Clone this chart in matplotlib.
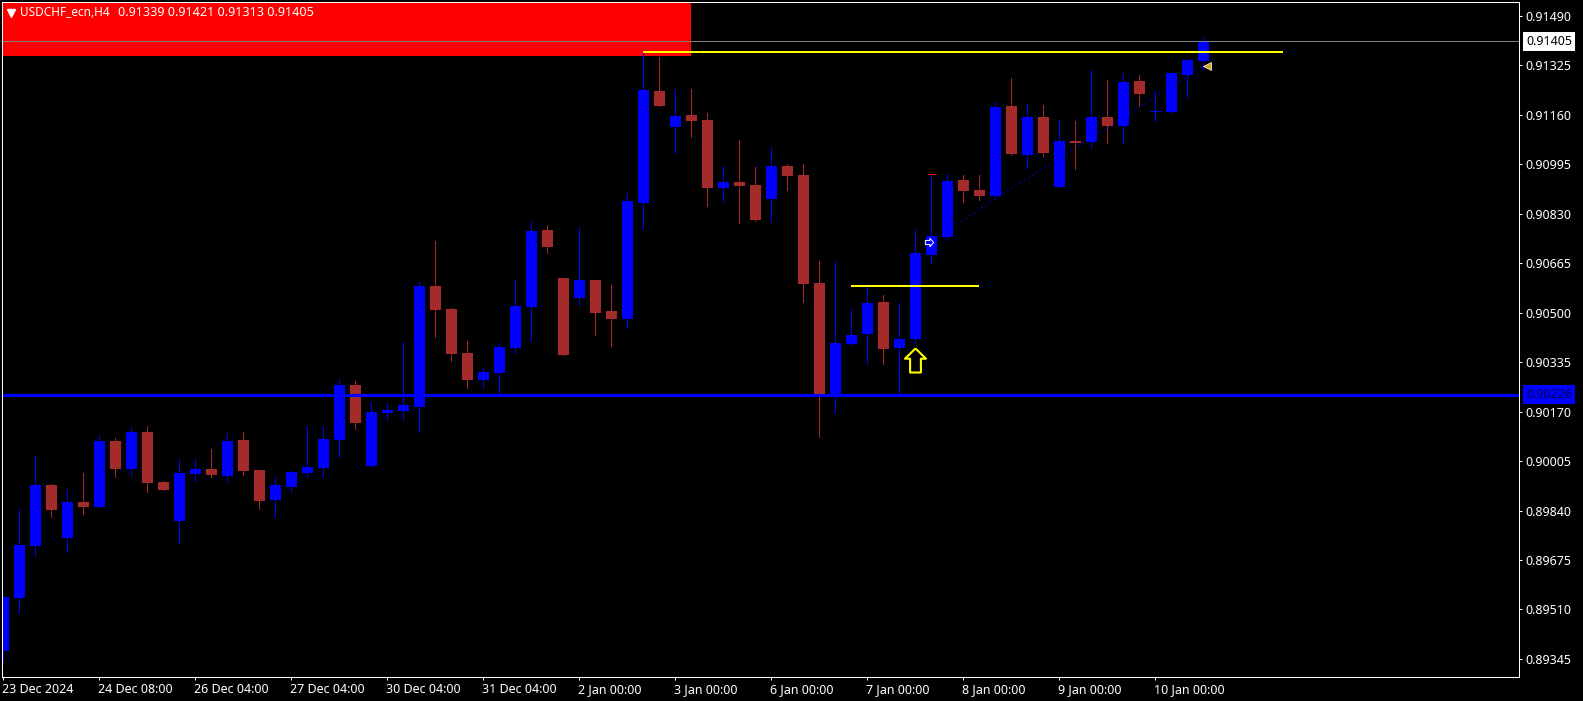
# USDCHF H4 candles, MT4 style

import matplotlib
matplotlib.use('Agg')
import numpy as np
import matplotlib.pyplot as plt
from matplotlib.transforms import ScaledTranslation

plt.rcParams['font.family'] = ['Noto Sans', 'DejaVu Sans']

opens = [0.89371, 0.89549, 0.89723, 0.89925, 0.89748, 0.89869, 0.89852, 0.90072, 0.89979, 0.90102,
         0.89935, 0.89805, 0.89962, 0.89979, 0.89955, 0.90075, 0.89975, 0.89875, 0.89919, 0.89965,
         0.89982, 0.90075, 0.90259, 0.89989, 0.90165, 0.90172, 0.90185, 0.90589, 0.90512, 0.90365,
         0.90275, 0.90299, 0.90382, 0.90519, 0.90776, 0.90616, 0.90549, 0.90609, 0.90506, 0.90479,
         0.90866, 0.91240, 0.91119, 0.91159, 0.91143, 0.90916, 0.90936, 0.90926, 0.90879, 0.90989,
         0.90959, 0.90599, 0.90228, 0.90395, 0.90429, 0.90536, 0.90382, 0.90412, 0.90692, 0.90752,
         0.90943, 0.90909, 0.90889, 0.91190, 0.91026, 0.91153, 0.90919, 0.91073, 0.91069, 0.91153,
         0.91123, 0.91273, 0.91173, 0.91169, 0.91293, 0.91339]
highs = [0.89552, 0.89845, 0.90022, 0.89929, 0.89912, 0.89965, 0.90089, 0.90082, 0.90119, 0.90122,
         0.89939, 0.90012, 0.90009, 0.90045, 0.90099, 0.90102, 0.89975, 0.89952, 0.89972, 0.90122,
         0.90122, 0.90276, 0.90272, 0.90202, 0.90199, 0.90402, 0.90602, 0.90739, 0.90516, 0.90406,
         0.90315, 0.90399, 0.90609, 0.90806, 0.90792, 0.90616, 0.90782, 0.90609, 0.90592, 0.90899,
         0.91370, 0.91353, 0.91246, 0.91246, 0.91166, 0.90989, 0.91076, 0.90986, 0.91053, 0.90996,
         0.90996, 0.90672, 0.90672, 0.90512, 0.90599, 0.90559, 0.90532, 0.90779, 0.90961, 0.90963,
         0.90959, 0.90959, 0.91203, 0.91283, 0.91196, 0.91193, 0.91143, 0.91139, 0.91310, 0.91276,
         0.91300, 0.91293, 0.91239, 0.91300, 0.91346, 0.91421]
lows = [0.89336, 0.89498, 0.89692, 0.89818, 0.89702, 0.89828, 0.89852, 0.89952, 0.89959, 0.89902,
        0.89909, 0.89732, 0.89939, 0.89952, 0.89935, 0.89959, 0.89845, 0.89818, 0.89905, 0.89952,
        0.89952, 0.90019, 0.90112, 0.89985, 0.90145, 0.90145, 0.90102, 0.90419, 0.90339, 0.90249,
        0.90249, 0.90228, 0.90365, 0.90406, 0.90699, 0.90359, 0.90526, 0.90425, 0.90389, 0.90449,
        0.90779, 0.91190, 0.91033, 0.91086, 0.90856, 0.90869, 0.90799, 0.90806, 0.90802, 0.90909,
        0.90536, 0.90085, 0.90165, 0.90392, 0.90332, 0.90329, 0.90228, 0.90399, 0.90666, 0.90742,
        0.90869, 0.90876, 0.90886, 0.91026, 0.90983, 0.91023, 0.90919, 0.90979, 0.91049, 0.91066,
        0.91066, 0.91190, 0.91139, 0.91166, 0.91216, 0.91313]
closes = [0.89552, 0.89725, 0.89925, 0.89842, 0.89869, 0.89852, 0.90072, 0.89979, 0.90102, 0.89932,
          0.89909, 0.89965, 0.89979, 0.89959, 0.90072, 0.89972, 0.89872, 0.89925, 0.89969, 0.89985,
          0.90079, 0.90259, 0.90132, 0.90169, 0.90175, 0.90192, 0.90589, 0.90509, 0.90362, 0.90275,
          0.90302, 0.90385, 0.90522, 0.90772, 0.90719, 0.90359, 0.90609, 0.90499, 0.90479, 0.90873,
          0.91243, 0.91190, 0.91156, 0.91139, 0.90916, 0.90936, 0.90923, 0.90809, 0.90989, 0.90956,
          0.90596, 0.90228, 0.90399, 0.90425, 0.90532, 0.90379, 0.90412, 0.90699, 0.90756, 0.90939,
          0.90906, 0.90889, 0.91186, 0.91029, 0.91153, 0.91033, 0.91073, 0.91066, 0.91153, 0.91123,
          0.91270, 0.91229, 0.91173, 0.91300, 0.91343, 0.91405]

price_ticks = [0.91490, 0.91325, 0.91160, 0.90995, 0.90830, 0.90665, 0.90500,
               0.90335, 0.90170, 0.90005, 0.89840, 0.89675, 0.89510, 0.89345]
time_ticks = [0, 6, 12, 18, 24, 30, 36, 42, 48, 54, 60, 66, 72]
time_labels = ['23 Dec 2024', '24 Dec 08:00', '26 Dec 04:00', '27 Dec 04:00', '30 Dec 04:00',
               '31 Dec 04:00', '2 Jan 00:00', '3 Jan 00:00', '6 Jan 00:00', '7 Jan 00:00',
               '8 Jan 00:00', '9 Jan 00:00', '10 Jan 00:00']

bid = 0.91405
support = 0.90226
res_top = [40, 80, 0.91370]
res_low = [53, 61, 0.90589]
trade_x = [58, 75]
trade_y = [0.90742, 0.91323]
zone_end = 43
zone_low = 0.91356

BLUE = '#0000ff'
BROWN = '#a52a2a'
YELLOW = '#ffff00'
PX = 0.72  # one pixel in points at dpi 100

fig = plt.figure(figsize=(15.83, 7.01), dpi=100, facecolor='black')
ax = fig.add_axes([2 / 1583, 24 / 701, 1517 / 1583, 675 / 701], facecolor='black')

x = np.arange(len(opens))
o = np.array(opens)
c = np.array(closes)
colors = [BLUE if a <= b else BROWN for a, b in zip(opens, closes)]

ax.set_xlim(-0.08, 94.73)
ax.set_ylim(0.892846, 0.915364)

# red zone, top left
ax.fill_between([ax.get_xlim()[0], zone_end], zone_low, ax.get_ylim()[1], color='#ff0000', lw=0, zorder=0)

ax.plot(trade_x, trade_y, color=BLUE, lw=PX, ls=(0, (1.5, 3.5)), zorder=1)

ax.vlines(x, lows, highs, colors=colors, lw=PX, antialiased=False, zorder=2)
ax.bar(x, np.abs(c - o), bottom=np.minimum(o, c), width=0.69, color=colors, linewidth=0, antialiased=False, zorder=3)
ax.hlines(closes[72], 72 - 0.345, 72 + 0.345, colors=BLUE, lw=PX, antialiased=False, zorder=3)
ax.hlines(highs[58], 58 - 0.22, 58 + 0.22, colors='#ff0000', lw=PX, antialiased=False, zorder=3)

ax.axhline(bid, color='#808080', lw=PX, zorder=4)
ax.axhline(support, color=BLUE, lw=2.99 * PX, zorder=5)
ax.hlines(res_top[2], res_top[0], res_top[1], colors=YELLOW, lw=2 * PX, zorder=5)
ax.hlines(res_low[2], res_low[0], res_low[1], colors=YELLOW, lw=2 * PX, zorder=5)

# hollow up arrow under the breakout candle
up_arrow = [(0, 1), (0.875, 0.15), (0.45, 0.15), (0.45, -1), (-0.45, -1), (-0.45, 0.15), (-0.875, 0.15), (0, 1)]
ax.plot(56.95, 0.90342, marker=up_arrow, ms=17.3, mfc='black', mec=YELLOW, mew=1.5, ls='none', zorder=6)

# trade open / close marks
right_arrow = [(1, 0), (0.1, 1), (0.1, 0.5), (-1, 0.5), (-1, -0.5), (0.1, -0.5), (0.1, -1), (1, 0)]
ax.plot(57.86, 0.90735, marker=right_arrow, ms=6, mfc=BLUE, mec='white', mew=0.7, ls='none', zorder=6)
ax.plot(75.2, 0.91323, marker='<', ms=6, mfc='#daa520', mec='white', mew=0.5, ls='none', zorder=6)

ax.yaxis.tick_right()
ax.set_yticks(price_ticks)
ax.set_yticklabels(['%.5f' % p for p in price_ticks])
ax.set_xticks(time_ticks)
ax.set_xticklabels(time_labels, ha='left')
ax.tick_params(axis='y', colors='white', length=2.5, width=PX, pad=2, labelsize=9)
ax.tick_params(axis='x', colors='white', length=2.5, width=PX, pad=2, labelsize=9)
shift = ScaledTranslation(-1 / 100, 0, fig.dpi_scale_trans)
for lbl in ax.get_xticklabels():
    lbl.set_transform(lbl.get_transform() + shift)
for s in ax.spines.values():
    s.set_color('white')
    s.set_linewidth(PX)
    s.set_zorder(7)

# price boxes on the right scale
tr = ax.get_yaxis_transform()
ax.annotate('%.5f' % bid, xy=(1, bid), xycoords=tr, xytext=(5, 0), textcoords='offset points',
            color='black', fontsize=9, va='center', ha='left', annotation_clip=False,
            bbox=dict(boxstyle='square,pad=0.25', fc='white', ec='none'))
ax.annotate('%.5f' % support, xy=(1, support), xycoords=tr, xytext=(5, 0), textcoords='offset points',
            color='#000044', fontsize=9, va='center', ha='left', annotation_clip=False,
            bbox=dict(boxstyle='square,pad=0.25', fc=BLUE, ec='none'))

# symbol header
ax.plot(0.46, 0.91501, marker='v', ms=6, color='white', ls='none', zorder=8)
ax.text(1.05, 0.91501, 'USDCHF_ecn,H4', color='white', fontsize=8.5, va='center', ha='left', zorder=8)
ax.text(7.18, 0.91501, '%.5f %.5f %.5f %.5f' % (opens[-1], highs[-1], lows[-1], closes[-1]),
        color='white', fontsize=9.1, va='center', ha='left', zorder=8)

plt.savefig('out.png', dpi=100, facecolor='black')
